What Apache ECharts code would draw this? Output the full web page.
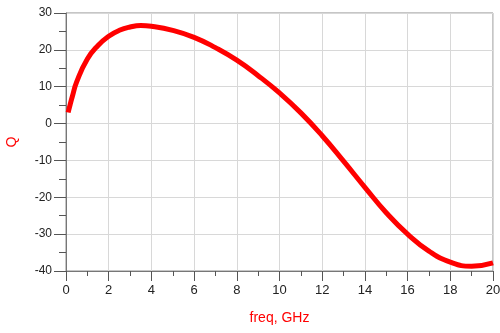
<!DOCTYPE html>
<html>
<head>
<meta charset="utf-8">
<script src="https://cdn.jsdelivr.net/npm/echarts@6/dist/echarts.min.js"></script>
<style>html,body{margin:0;padding:0;background:#fff;}#c{width:500px;height:333px;}</style>
</head>
<body>
<div id="c"></div>
<script>
var freq = [0.1, 0.2, 0.3, 0.5, 1, 1.5, 2, 2.5, 3, 3.5, 4, 5, 6, 7, 8, 9, 10, 11, 12, 13, 14, 15, 16, 17, 18, 19, 20];
var qValues = [3.0, 5.3, 7.4, 11.3, 17.5, 21.2, 23.7, 25.3, 26.2, 26.6, 26.4, 25.3, 23.4, 20.6, 17.2, 13.0, 8.3, 2.9, -3.3, -10.2, -17.3, -24.2, -30.0, -34.6, -37.6, -38.7, -37.8];
var xName = 'freq, GHz';
var yName = 'Q';

var data = freq.map(function (f, i) { return [f, qValues[i]]; });
var chart = echarts.init(document.getElementById('c'), null, {renderer: 'canvas'});
chart.setOption({
  animation: false,
  grid: {left: 66, right: 7, top: 13, bottom: 62, containLabel: false, outerBoundsMode: 'none',
         show: true, borderColor: '#8c8c8c', borderWidth: 1},
  xAxis: {
    type: 'value', min: 0, max: 20, interval: 2,
    name: xName, nameLocation: 'middle', nameGap: 40,
    nameTextStyle: {color: '#ff0000', fontSize: 14, fontFamily: 'Liberation Sans'},
    axisLine: {show: true, onZero: false, lineStyle: {color: '#777', width: 1}},
    axisTick: {show: true, length: 10, lineStyle: {color: '#555'}},
    minorTick: {show: true, splitNumber: 2, length: 5, lineStyle: {color: '#555'}},
    axisLabel: {color: '#222', fontSize: 13, margin: 13, fontFamily: 'Liberation Sans'},
    splitLine: {show: true, lineStyle: {color: '#d8d8d8', width: 1}}
  },
  yAxis: {
    type: 'value', min: -40, max: 30, interval: 10,
    name: yName, nameLocation: 'middle', nameGap: 47, nameRotate: 90,
    nameTextStyle: {color: '#ff0000', fontSize: 14, fontFamily: 'Liberation Sans'},
    axisLine: {show: true, onZero: false, lineStyle: {color: '#777', width: 1}},
    axisTick: {show: true, length: 12, lineStyle: {color: '#555'}},
    minorTick: {show: true, splitNumber: 2, length: 7, lineStyle: {color: '#555'}},
    axisLabel: {color: '#222', fontSize: 12, margin: 14, fontFamily: 'Liberation Sans'},
    splitLine: {show: true, lineStyle: {color: '#d8d8d8', width: 1}}
  },
  series: [{
    type: 'line', data: data, smooth: 0.5, showSymbol: false,
    lineStyle: {color: '#ff0000', width: 5}, clip: false
  }]
});
</script>
</body>
</html>
